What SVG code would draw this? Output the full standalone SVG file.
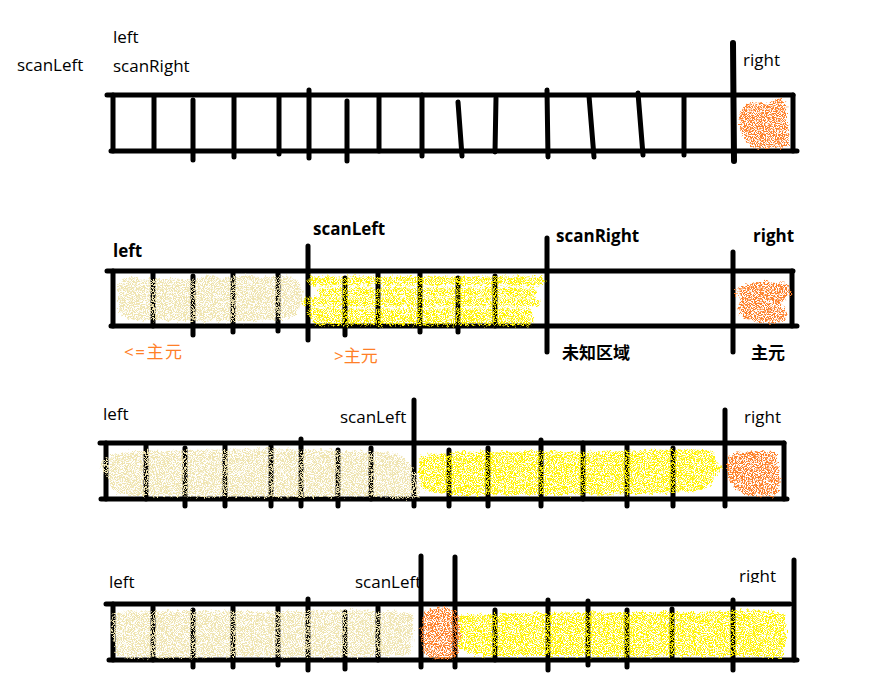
<svg xmlns="http://www.w3.org/2000/svg" width="890" height="691" viewBox="0 0 890 691">
<style>
.ln{stroke:#000;stroke-width:5;stroke-linecap:round;fill:none}
.t{font-family:"Open Sans","Noto Sans CJK SC",sans-serif;font-size:17px;fill:#000}
.b{font-family:"Open Sans","Noto Sans CJK SC",sans-serif;font-size:17px;font-weight:bold;fill:#000}
.o{font-family:"Open Sans","Noto Sans CJK SC",sans-serif;font-size:17px;fill:#FF7F27}
.beige{fill:#EFE4B0}
.yel{fill:#FFF200}
.ora{fill:#FF7F27}
.ys{stroke:#FFF200;stroke-width:9;stroke-linecap:round;fill:none}
</style>
<defs>
<filter id="spray" x="-10%" y="-20%" width="120%" height="140%" color-interpolation-filters="sRGB">
<feTurbulence type="fractalNoise" baseFrequency="0.3" numOctaves="2" seed="7" result="t"/>
<feDisplacementMap in="SourceGraphic" in2="t" scale="8" xChannelSelector="R" yChannelSelector="G" result="d"/>
<feTurbulence type="fractalNoise" baseFrequency="1.1" numOctaves="1" seed="2" result="n"/>
<feColorMatrix in="n" type="matrix" values="0 0 0 0 0  0 0 0 0 0  0 0 0 0 0  9 0 0 0 -3.9" result="m"/>
<feComposite in="d" in2="m" operator="in"/>
</filter>
<clipPath id="cut"><rect x="700" y="560" width="100" height="23"/></clipPath>
</defs>

<g id="row1">
<g id="row1-lines">
<path class="ln" d="M107 95H793M111 151H797"/>
<path class="ln" d="M113 95V151M154 96V150M193 100V160M234 96V157M279 96V154M309 90V158M347 101V161M379 96V151M422 95V156"/>
<path class="ln" d="M458 102L462 156M496 98L495 152M547 90L548 157M589 96L594 157M638 93L643 155M684 97V155M793 95V151"/>
<path class="ln" style="stroke-width:6" d="M733 43L734 161"/>
</g>
<path class="ora" filter="url(#spray)" d="M740 112 C745 100 760 102 768 104 C775 96 783 98 786 104 L789 146 C780 150 770 146 760 149 C752 150 746 142 742 134 C738 126 738 118 740 112Z"/>
<text class="t" x="113" y="43">left</text>
<text class="t" x="113" y="72">scanRight</text>
<text class="t" x="17" y="71">scanLeft</text>
<text class="t" x="743" y="66">right</text>
</g>

<g id="row2">
<g id="row2-lines">
<path class="ln" d="M107 271H793M111 326H797"/>
<path class="ln" d="M113 271V326M153 272V326M193 276V335M233 272V332M278 272V331M345 278V335M378 272V326M420 272V332M458 278V332M495 276V326M792 271V326"/>
<path class="ln" d="M308 246V340M547 238V352M733 252V352"/>
</g>
<g filter="url(#spray)">
<path class="beige" d="M118 285 C122 278 132 274 140 280 C150 278 170 280 200 279 C206 273 214 274 220 279 C235 277 245 272 255 276 C270 280 285 272 295 280 C305 285 304 300 300 305 C300 315 290 322 270 320 C240 322 200 322 160 320 C130 322 120 318 118 310Z"/>
<path class="ys" d="M312 281H540M322 292H532M306 302H535M312 313H528M318 321H530"/>
</g>
<g filter="url(#spray)">
<path class="ora" d="M736 290 C745 282 760 280 775 283 C785 280 790 286 792 292 C789 300 780 300 780 306 C788 310 790 318 782 322 C770 324 755 322 745 318 C736 314 735 306 742 300 C736 297 734 294 736 290Z"/>
</g>
<text class="b" x="113" y="257">left</text>
<text class="b" x="313" y="235">scanLeft</text>
<text class="b" x="556" y="242">scanRight</text>
<text class="b" x="753" y="242">right</text>
<text class="o" x="124" y="358" letter-spacing="1.5">&lt;=主元</text>
<text class="o" x="334" y="362">&gt;主元</text>
<text class="b" x="562" y="359">未知区域</text>
<text class="b" x="751" y="359">主元</text>
</g>

<g id="row3">
<g id="row3-lines">
<path class="ln" d="M100 443H784M101 499H787"/>
<path class="ln" d="M106 443V499M146 445V499M185 448V506M225 445V506M271 446V506M301 439V506M338 450V506M371 448V499M449 450V506M488 448V506M541 440V506M583 443V499M627 446V506M673 448V506M784 443V499"/>
<path class="ln" d="M414 400V506M725 410V506"/>
</g>
<g filter="url(#spray)">
<path class="beige" d="M102 462 C110 452 130 450 160 451 C220 449 300 448 370 452 C390 450 405 456 410 465 C418 478 422 490 418 498 C400 500 380 497 360 496 C300 498 220 497 150 496 C120 497 108 492 110 480 C104 475 100 468 102 462Z"/>
<path class="yel" d="M420 456 C450 450 520 451 600 452 C650 450 700 447 712 452 C716 458 714 464 722 468 C716 474 712 484 704 490 C660 496 580 494 500 495 C460 497 430 494 422 488 C418 476 418 464 420 456Z"/>
<path class="ora" d="M727 458 C735 450 760 451 775 452 C780 460 778 470 780 480 C780 490 778 497 772 498 C760 495 748 497 740 492 C732 486 727 478 727 470Z"/>
</g>
<text class="t" x="103" y="420">left</text>
<text class="t" x="340" y="423">scanLeft</text>
<text class="t" x="744" y="423">right</text>
</g>

<g id="row4">
<text class="t" x="109" y="588">left</text>
<text class="t" x="355" y="588">scanLeft</text>
<text class="t" x="739" y="582" clip-path="url(#cut)">right</text>
<g id="row4-lines">
<path class="ln" d="M106 604H790M109 660H797"/>
<path class="ln" d="M113 604V660M153 607V660M193 610V667M233 607V667M278 607V665M308 599V670M345 612V669M378 607V660M495 610V660M548 600V670M588 601V665M627 610V667M672 609V657M733 600V670"/>
<path class="ln" d="M421 556V667M455 557V667M794 560V660"/>
</g>
<g filter="url(#spray)">
<path class="beige" d="M112 614 C140 610 200 611 260 612 C320 610 380 609 412 613 C414 625 413 640 410 655 C360 657 300 657 240 656 C180 658 130 660 118 656 C112 645 110 630 112 614Z"/>
<path class="yel" d="M455 616 C500 612 600 612 700 612 C740 610 770 609 784 614 C788 630 786 648 782 658 C760 655 720 657 700 656 C640 657 560 656 500 656 C470 658 458 650 455 640Z"/>
<path class="ora" d="M425 612 C435 605 452 606 458 615 C462 628 460 645 456 658 C445 660 432 660 424 655 C420 642 419 625 425 612Z"/>
</g>
</g>
</svg>
